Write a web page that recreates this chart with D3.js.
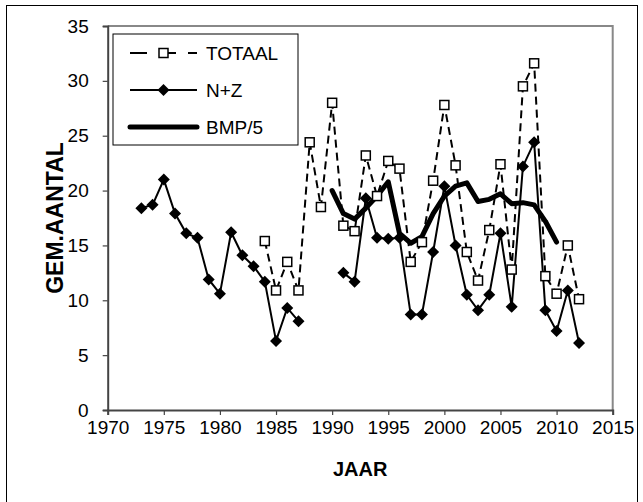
<!DOCTYPE html>
<html>
<head>
<meta charset="utf-8">
<script src="https://cdn.jsdelivr.net/npm/d3@7"></script>
<style>
  html, body { margin: 0; padding: 0; background: #fff; }
  svg { display: block; }
  text { font-family: "Liberation Sans", Arial, sans-serif; fill: #000; }
</style>
</head>
<body>
<svg id="chart" width="643" height="502"></svg>
<script>
// ---- data ----
const nzYears = [1973,1974,1975,1976,1977,1978,1979,1980,1981,1982,1983,1984,1985,1986,1987,1988,1989,1990,
                 1991,1992,1993,1994,1995,1996,1997,1998,1999,2000,2001,2002,2003,2004,2005,2006,2007,2008,2009,2010,2011,2012];
const nzValues = [18.4,18.7,21.0,17.9,16.1,15.7,11.9,10.6,16.2,14.1,13.1,11.7,6.3,9.3,8.1,null,null,null,
                  12.5,11.7,19.3,15.7,15.6,15.7,8.7,8.7,14.4,20.4,15.0,10.5,9.1,10.5,16.1,9.4,22.2,24.4,9.1,7.2,10.9,6.1];
const totYears = [1984,1985,1986,1987,1988,1989,1990,1991,1992,1993,1994,1995,1996,1997,1998,1999,
                  2000,2001,2002,2003,2004,2005,2006,2007,2008,2009,2010,2011,2012];
const totValues = [15.4,10.9,13.5,10.9,24.4,18.5,28.0,16.8,16.3,23.2,19.5,22.7,22.0,13.5,15.3,20.9,
                   27.8,22.3,14.4,11.8,16.4,22.4,12.8,29.5,31.6,12.2,10.6,15.0,10.1];
const bmpYears = [1990,1991,1992,1993,1994,1995,1996,1997,1998,1999,2000,2001,2002,2003,2004,2005,2006,2007,2008,2009,2010];
const bmpValues = [20.0,17.9,17.4,18.4,19.5,20.8,16.1,15.2,15.8,17.9,19.5,20.4,20.7,19.0,19.2,19.7,18.8,18.9,18.7,17.2,15.3];
const xTicks = [1970,1975,1980,1985,1990,1995,2000,2005,2010,2015];
const yTicks = [0,5,10,15,20,25,30,35];
const seriesNames = ["TOTAAL", "N+Z", "BMP/5"];
const xTitle = "JAAR";
const yTitle = "GEM.AANTAL";

// ---- layout ----
const svg = d3.select("#chart");
const L = 107.7, R = 612.7, T = 26, B = 410;
const x = d3.scaleLinear().domain([1970, 2015]).range([L, R]);
const y = d3.scaleLinear().domain([0, 35]).range([B, T]);

// outer frame
svg.append("rect").attr("x", 6.5).attr("y", 5.5).attr("width", 631).attr("height", 500)
  .attr("fill", "none").attr("stroke", "#000").attr("stroke-width", 1);

// plot border top / right (gray)
svg.append("path").attr("d", `M${L},${T}H${R}V${B}`)
  .attr("fill", "none").attr("stroke", "#888").attr("stroke-width", 2);

// axes
const xAxis = d3.axisBottom(x).tickValues(xTicks).tickFormat(d3.format("d")).tickSize(5).tickPadding(6);
const yAxis = d3.axisLeft(y).tickValues(yTicks).tickSize(5).tickPadding(14);
const gx = svg.append("g").attr("transform", `translate(0,${B})`).call(xAxis);
const gy = svg.append("g").attr("transform", `translate(${L},0)`).call(yAxis);
[gx, gy].forEach(g => {
  g.select(".domain").attr("stroke", "#444").attr("stroke-width", 2);
  g.selectAll(".tick line").attr("stroke", "#444").attr("stroke-width", 1.2);
  g.selectAll(".tick text").style("font-family", "'Liberation Sans', Arial, sans-serif")
    .style("font-size", "19px").attr("fill", "#000");
});

// axis titles
svg.append("text").attr("x", (L + R) / 2).attr("y", 476).attr("text-anchor", "middle")
  .style("font-size", "20px").style("font-weight", "bold").text(xTitle);
svg.append("text").attr("transform", `translate(63,${(T + B) / 2}) rotate(-90)`)
  .attr("text-anchor", "middle").style("font-size", "23px").style("font-weight", "bold").text(yTitle);

// ---- series ----
const zip = (xs, vs) => xs.map((d, i) => ({ yr: d, v: vs[i] }));
const nz = zip(nzYears, nzValues);
const tot = zip(totYears, totValues);
const bmp = zip(bmpYears, bmpValues);
const line = d3.line().defined(d => d.v != null).x(d => x(d.yr)).y(d => y(d.v));

svg.append("path").datum(tot).attr("d", line).attr("fill", "none")
  .attr("stroke", "#000").attr("stroke-width", 2).attr("stroke-dasharray", "8,5");
svg.append("path").datum(nz).attr("d", line).attr("fill", "none")
  .attr("stroke", "#000").attr("stroke-width", 2);
svg.append("path").datum(bmp).attr("d", line).attr("fill", "none")
  .attr("stroke", "#000").attr("stroke-width", 5).attr("stroke-linejoin", "round").attr("stroke-linecap", "round");

const diamond = (cx, cy, r) => `M${cx},${cy - r}L${cx + r},${cy}L${cx},${cy + r}L${cx - r},${cy}Z`;
svg.append("g").selectAll("path").data(nz.filter(d => d.v != null)).join("path")
  .attr("d", d => diamond(x(d.yr), y(d.v), 6)).attr("fill", "#000");
const sq = 9;
svg.append("g").selectAll("rect").data(tot).join("rect")
  .attr("x", d => x(d.yr) - sq / 2).attr("y", d => y(d.v) - sq / 2)
  .attr("width", sq).attr("height", sq).attr("fill", "#fff").attr("stroke", "#000").attr("stroke-width", 1.5);

// ---- legend ----
const lg = svg.append("g");
lg.append("rect").attr("x", 113).attr("y", 34).attr("width", 185).attr("height", 111)
  .attr("fill", "#fff").attr("stroke", "#000").attr("stroke-width", 1);
const rows = [53, 90, 127];
const lx0 = 130, lx1 = 197, lxm = (lx0 + lx1) / 2;
lg.append("line").attr("x1", lx0).attr("x2", lx1).attr("y1", rows[0]).attr("y2", rows[0])
  .attr("stroke", "#000").attr("stroke-width", 2).attr("stroke-dasharray", "17,12");
lg.append("rect").attr("x", lxm - sq / 2).attr("y", rows[0] - sq / 2).attr("width", sq).attr("height", sq)
  .attr("fill", "#fff").attr("stroke", "#000").attr("stroke-width", 1.5);
lg.append("line").attr("x1", lx0).attr("x2", lx1).attr("y1", rows[1]).attr("y2", rows[1])
  .attr("stroke", "#000").attr("stroke-width", 2);
lg.append("path").attr("d", diamond(lxm, rows[1], 6)).attr("fill", "#000");
lg.append("line").attr("x1", lx0).attr("x2", lx1).attr("y1", rows[2]).attr("y2", rows[2])
  .attr("stroke", "#000").attr("stroke-width", 5).attr("stroke-linecap", "round");
seriesNames.forEach((n, i) => {
  lg.append("text").attr("x", 206).attr("y", rows[i]).attr("dy", "0.35em")
    .style("font-size", "19px").text(n);
});
</script>
</body>
</html>
